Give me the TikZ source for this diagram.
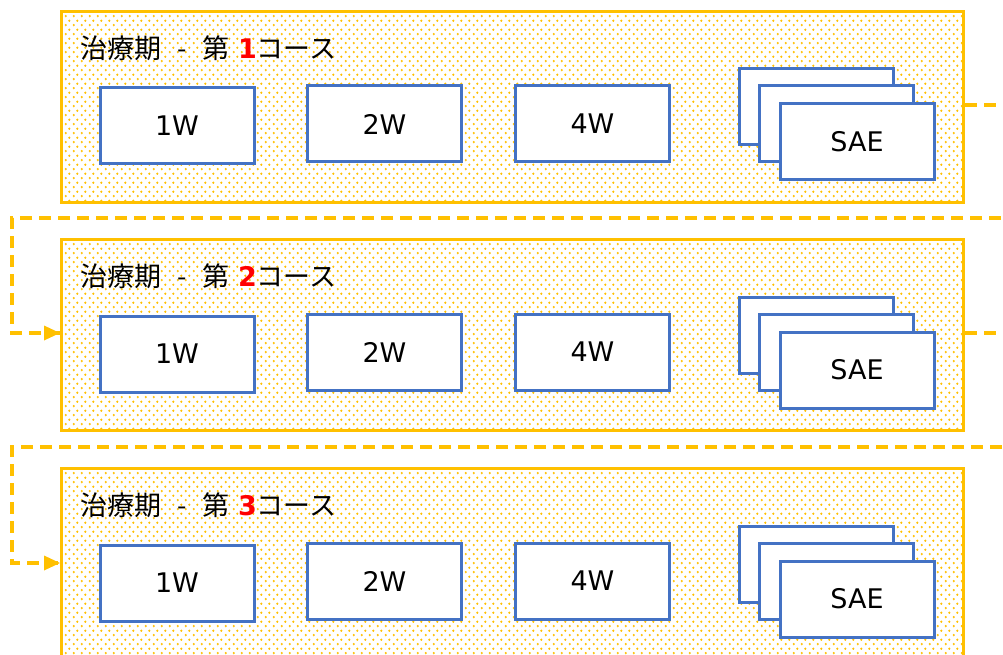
\documentclass[tikz,border=0pt]{standalone}
\usepackage{fontspec}
\setmainfont{DejaVu Sans}
\newfontfamily\jpfont{Noto Sans CJK JP}
\usetikzlibrary{patterns.meta,arrows.meta}
\definecolor{gold}{HTML}{FFC000}
\definecolor{boxblue}{HTML}{4472C4}
\definecolor{titlered}{HTML}{FF0000}
\tikzdeclarepattern{name=odots, type=uncolored,
  bounding box={(0pt,0pt) and (8pt,8.8pt)}, tile size={(8pt,8.8pt)},
  code={\fill (2pt,2pt) circle (1.3pt); \fill (6pt,6.4pt) circle (1.3pt);}}
\tikzset{
  panel/.style={draw=gold, line width=3pt, fill=white,
    postaction={pattern={odots}, pattern color=gold},
    minimum width=902pt, minimum height=191pt, anchor=north west, inner sep=0pt},
  wbox/.style={draw=boxblue, line width=3pt, fill=white,
    minimum width=154pt, minimum height=76pt, inner sep=0pt, font=\fontsize{27}{32}\selectfont},
  titletext/.style={anchor=west, inner sep=0pt, font=\jpfont\fontsize{27}{32}\selectfont},
  loopline/.style={draw=gold, line width=3.5pt, dash pattern=on 12pt off 7pt},
}
\begin{document}
\begin{tikzpicture}[x=1pt,y=-1pt]
\useasboundingbox (0,0) rectangle (1003,655);
\foreach \i/\dy in {1/0,2/228,3/457}{
  \node[panel] (p\i) at (60,10+\dy) {};
  \node[titletext] (t\i) at (80,48+\dy) {治療期\hspace{0.6em}-\hspace{0.6em}第\hspace{0.3em}{\fontspec{DejaVu Sans}\bfseries\color{titlered}\i}コース};
  \node[wbox] (a\i) at (177,126+\dy) {1W};
  \node[wbox] (b\i) at (384.5,124+\dy) {2W};
  \node[wbox] (c\i) at (592.5,124+\dy) {4W};
  \node[wbox] (s\i x) at (816.5,107+\dy) {};
  \node[wbox] (s\i y) at (836.5,124+\dy) {};
  \node[wbox] (s\i) at (857,142+\dy) {SAE};
}
\coordinate (r1) at (1012,105);
\coordinate (r1b) at (1012,218);
\coordinate (l1) at (12,218);
\coordinate (l1b) at (12,333);
\coordinate (r2) at (1012,333);
\coordinate (r2b) at (1012,447);
\coordinate (l2) at (12,447);
\coordinate (l2b) at (12,563);
\draw[loopline] (p1.east |- r1) -- (r1) -- (r1b) -- (l1) -- (l1b) -- (p2.west |- l1b);
\draw[loopline] (p2.east |- r2) -- (r2) -- (r2b) -- (l2) -- (l2b) -- (p3.west |- l2b);
\fill[gold] (p2.west |- l1b) -- ++(-16,-7.5) -- ++(0,15) -- cycle;
\fill[gold] (p3.west |- l2b) -- ++(-16,-7.5) -- ++(0,15) -- cycle;
\end{tikzpicture}
\end{document}
